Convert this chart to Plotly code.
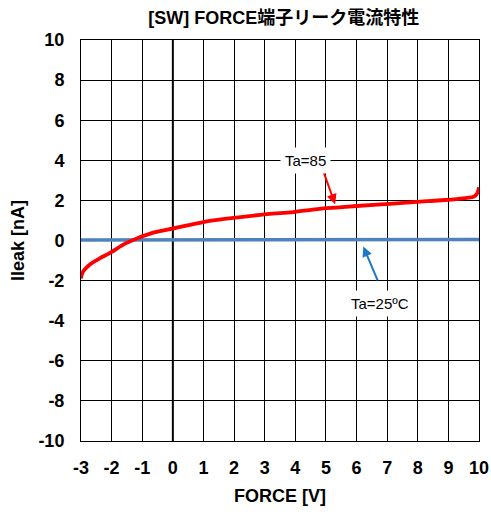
import plotly.graph_objects as go

# Leakage current at the FORCE pin, Ta=85 (red) and Ta=25ºC (blue)
force_85 = [-3.0, -2.95, -2.71, -2.4, -2.05, -1.51, -0.64, 0.02, 1.0, 1.76, 3.07, 3.94, 5.03, 6.0, 7.2, 8.3, 9.39, 9.88, 10.0]
ileak_85 = [-1.9, -1.6, -1.2, -0.9, -0.62, -0.12, 0.39, 0.6, 0.92, 1.09, 1.31, 1.42, 1.61, 1.72, 1.84, 1.96, 2.09, 2.23, 2.65]

force_25 = [-3.0, 0.0, 5.0, 10.0]
ileak_25 = [0.02, 0.03, 0.04, 0.05]

x_ticks = list(range(-3, 11))
y_ticks = list(range(-10, 11, 2))

fig = go.Figure()
fig.add_trace(go.Scatter(x=force_25, y=ileak_25, mode="lines",
                         line=dict(color="#4f81bd", width=3.5), showlegend=False))
fig.add_trace(go.Scatter(x=force_85, y=ileak_85, mode="lines",
                         line=dict(color="#ff0000", width=3.8, shape="spline"), showlegend=False))

# Thick vertical line at FORCE = 0
fig.add_shape(type="line", x0=0, x1=0, y0=-10, y1=10, xref="x", yref="y",
              line=dict(color="black", width=2), layer="below")

# Callouts
fig.add_annotation(x=5.30, y=1.81, ax=4.91, ay=3.47, axref="x", ayref="y",
                   text="", showarrow=True, arrowhead=2, arrowsize=1, arrowwidth=2,
                   arrowcolor="#ff0000")
fig.add_annotation(x=4.32, y=3.97, text="Ta=85", showarrow=False,
                   bgcolor="white", borderpad=4,
                   font=dict(family="Liberation Sans, Arial", size=15, color="black"))
fig.add_annotation(x=6.22, y=-0.3, ax=6.71, ay=-2.06, axref="x", ayref="y",
                   text="", showarrow=True, arrowhead=2, arrowsize=1, arrowwidth=2,
                   arrowcolor="#1f77c8")
fig.add_annotation(x=6.77, y=-3.12, text="Ta=25ºC", showarrow=False,
                   bgcolor="white", borderpad=4,
                   font=dict(family="Liberation Sans, Arial", size=15, color="black"))

font_bold = "Liberation Sans, Arial, Noto Sans CJK JP"
fig.update_layout(
    width=491, height=516,
    margin=dict(l=81, r=12, t=40, b=75, autoexpand=False),
    paper_bgcolor="white", plot_bgcolor="white",
    title=dict(text="<b>[SW] FORCE端子リーク電流特性</b>", x=0.578, xanchor="center",
               y=0.965, yanchor="middle",
               font=dict(family=font_bold, size=18, color="black")),
    xaxis=dict(range=[-3, 10], tickvals=x_ticks, ticktext=[f"<b>{v}</b>" for v in x_ticks],
               showgrid=True, gridcolor="black", gridwidth=1, zeroline=False,
               showline=True, linecolor="black", linewidth=1, mirror=True,
               automargin=False, ticklabelstandoff=10,
               ticks="", tickfont=dict(family=font_bold, size=18, color="black"),
               title=dict(text="<b>FORCE [V]</b>", standoff=12,
                          font=dict(family=font_bold, size=18, color="black"))),
    yaxis=dict(range=[-10, 10], tickvals=y_ticks, ticktext=[f"<b>{v}</b>" for v in y_ticks],
               showgrid=True, gridcolor="black", gridwidth=1, zeroline=False,
               showline=True, linecolor="black", linewidth=1, mirror=True,
               automargin=False, ticklabelstandoff=12,
               ticks="", tickfont=dict(family=font_bold, size=18, color="black"),
               title=dict(text="<b>Ileak [nA]</b>", standoff=9,
                          font=dict(family=font_bold, size=18, color="black"))),
)

fig.write_html("out.html")
